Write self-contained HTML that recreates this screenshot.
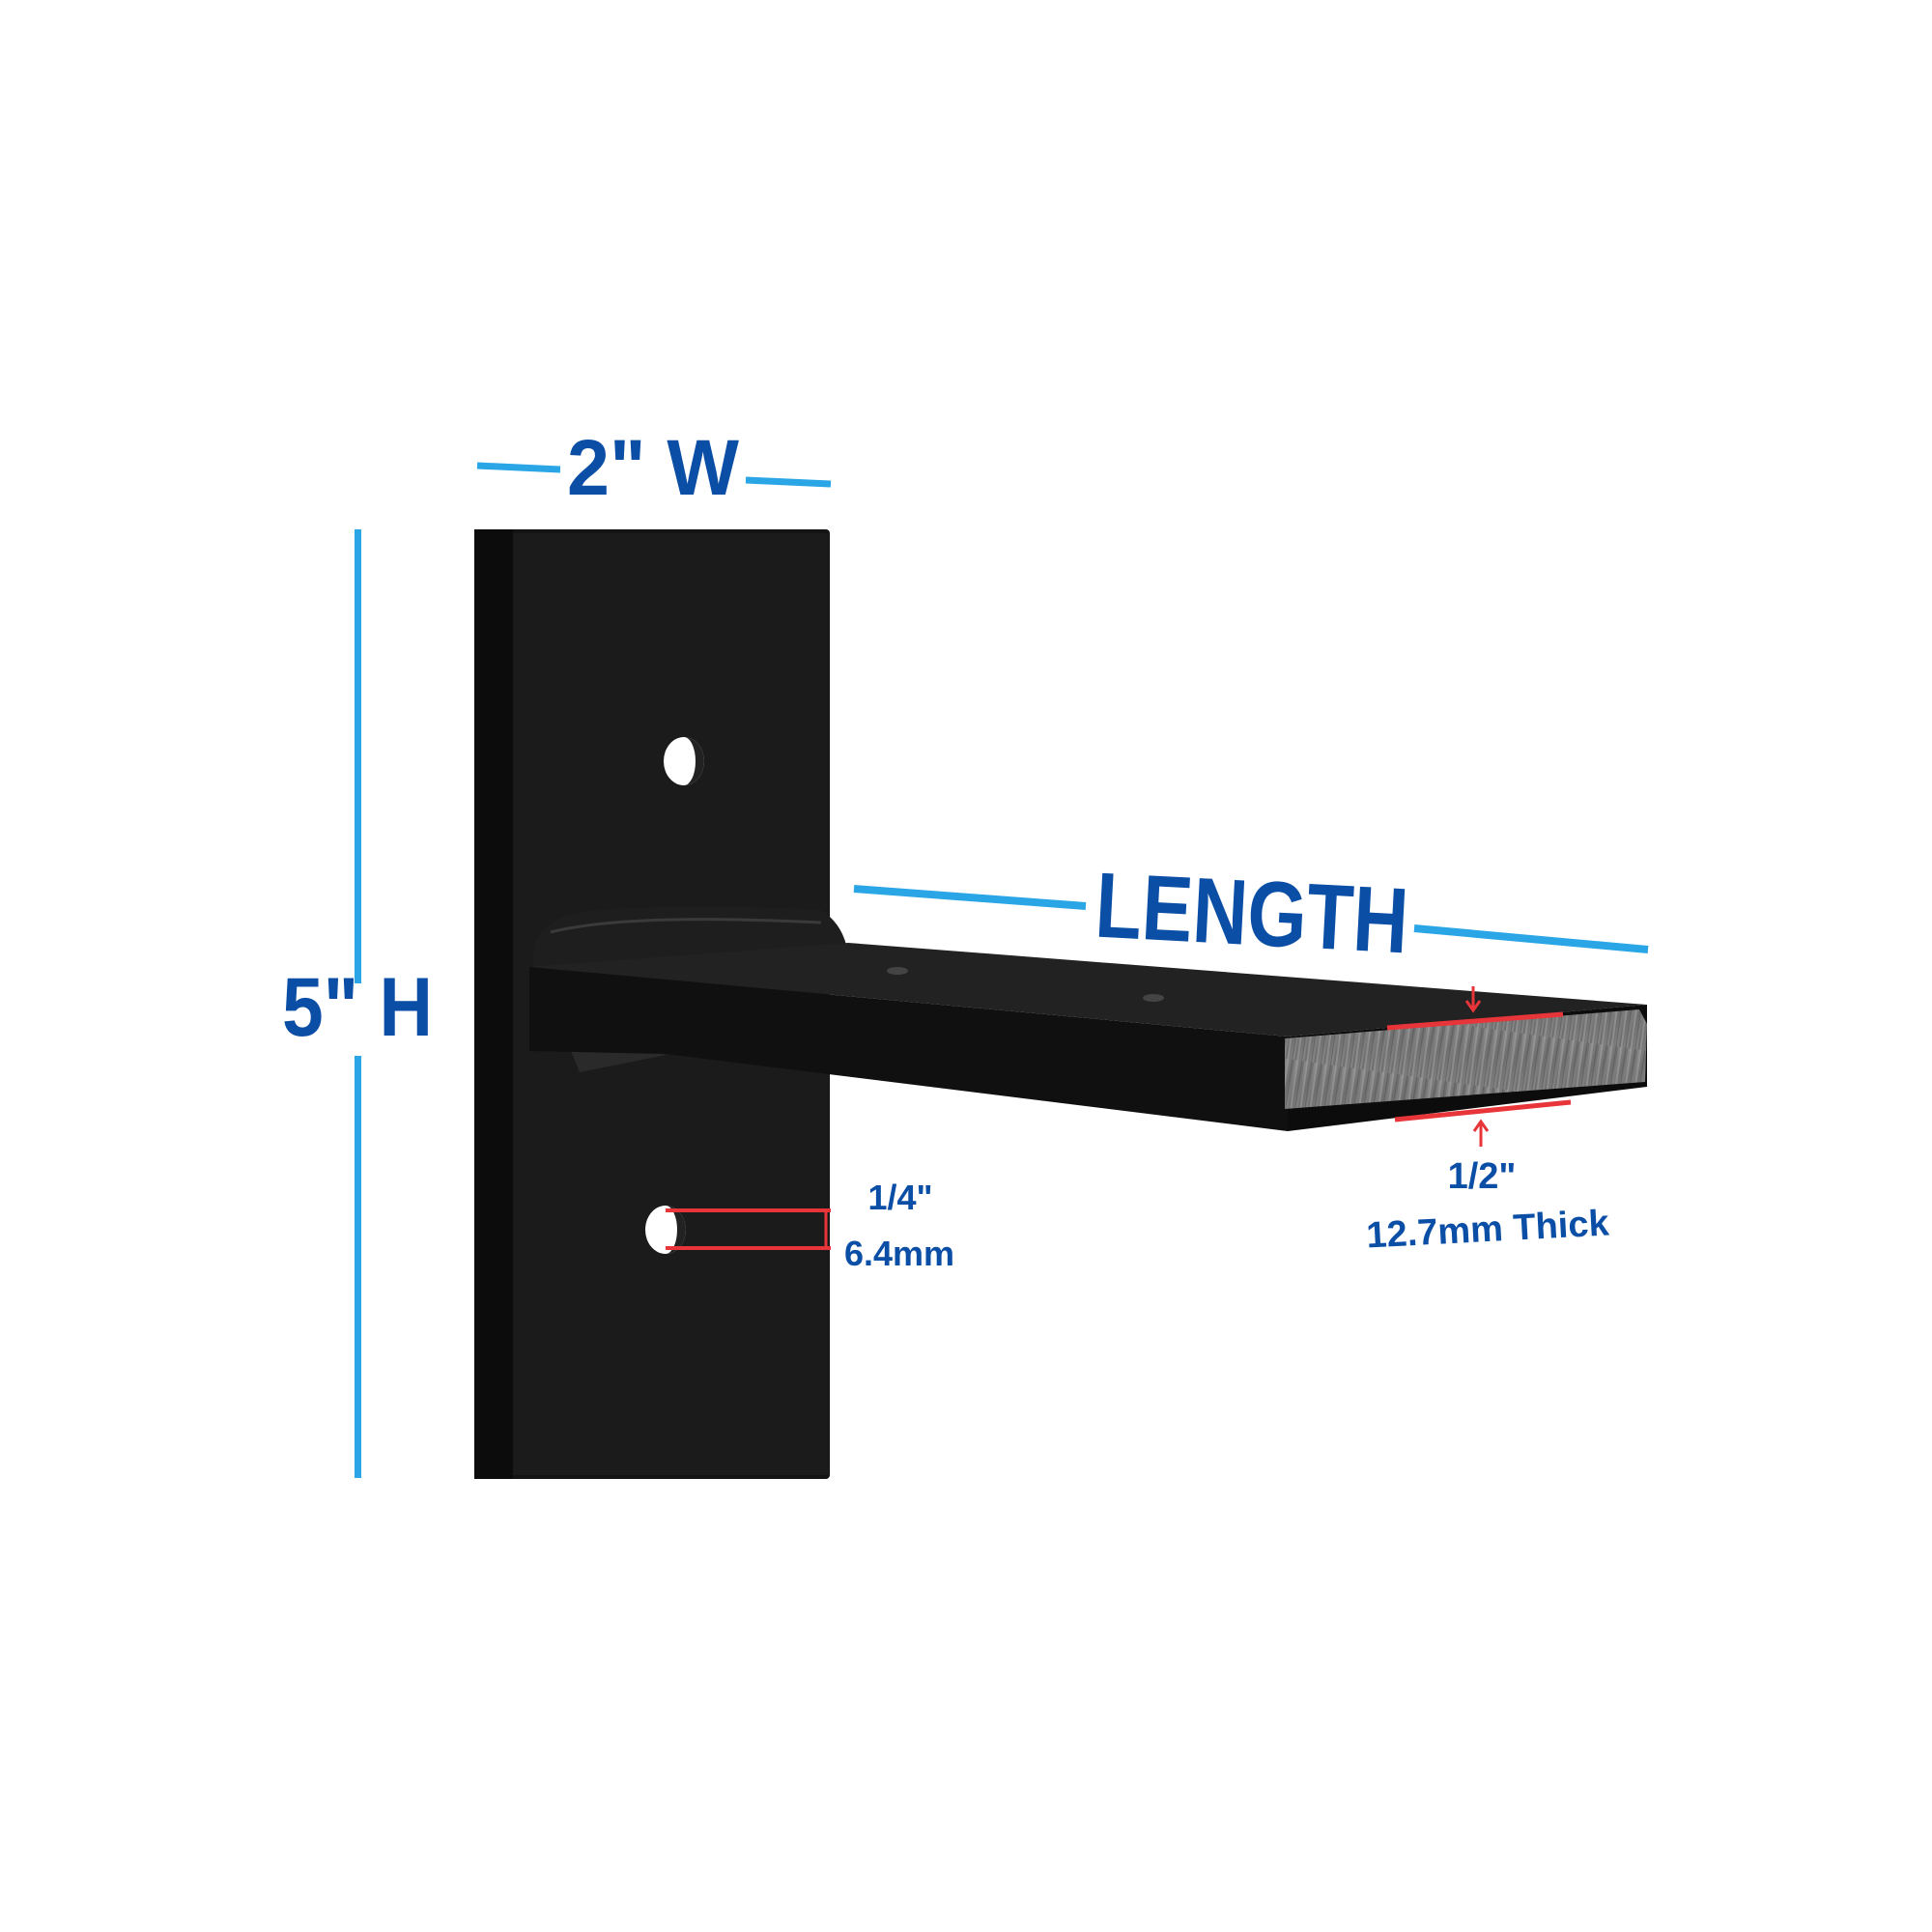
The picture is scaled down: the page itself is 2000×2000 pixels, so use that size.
<!DOCTYPE html>
<html><head><meta charset="utf-8"><style>
html,body{margin:0;padding:0;background:#fff;}
svg{display:block;}
text{font-family:"Liberation Sans",Arial,sans-serif;font-weight:bold;fill:#0b4ea6;}
</style></head><body>
<svg width="2000" height="2000" viewBox="0 0 2000 2000" xmlns="http://www.w3.org/2000/svg">
<defs>
<linearGradient id="cut" x1="0" y1="0" x2="1" y2="1">
<stop offset="0" stop-color="#8a8a8a"/><stop offset="0.5" stop-color="#6e6e6e"/><stop offset="1" stop-color="#888"/>
</linearGradient>
<pattern id="streak" width="10" height="60" patternUnits="userSpaceOnUse" patternTransform="rotate(8)">
<rect width="10" height="60" fill="url(#cut)"/>
<rect x="2" width="2" height="60" fill="#a8a8a8" opacity="0.5"/>
<rect x="7" width="1" height="60" fill="#505050" opacity="0.5"/>
</pattern>
</defs>
<rect x="367" y="548" width="7" height="470" fill="#2aa6e6"/>
<rect x="367" y="1093" width="7" height="437" fill="#2aa6e6"/>
<text x="292" y="1072" font-size="86" textLength="156" lengthAdjust="spacingAndGlyphs">5" H</text>
<line x1="494" y1="482" x2="580" y2="486" stroke="#2aa6e6" stroke-width="7"/>
<line x1="772" y1="497" x2="860" y2="501" stroke="#2aa6e6" stroke-width="7"/>
<text x="587" y="512" font-size="82" textLength="178" lengthAdjust="spacingAndGlyphs">2" W</text>
<rect x="491" y="548" width="368" height="983" rx="4" fill="#141414"/>
<rect x="530" y="552" width="328" height="975" fill="#1b1b1b"/>
<rect x="491" y="548" width="40" height="983" fill="#0c0c0c"/>
<ellipse cx="708" cy="788" rx="21" ry="25" fill="#fff"/>
<path d="M708 763 a21 25 0 0 1 0 50 a12 25 0 0 0 0 -50z" fill="#222"/>
<ellipse cx="689" cy="1273" rx="21" ry="25" fill="#fff"/>
<path d="M689 1248 a21 25 0 0 1 0 50 a12 25 0 0 0 0 -50z" fill="#222"/>
<path d="M552 985 Q560 945 620 942 Q720 935 850 942 Q870 955 876 978 L552 1002z" fill="#1e1e1e"/>
<path d="M570 965 Q650 945 850 955" stroke="#3a3a3a" stroke-width="3" fill="none"/>
<path d="M590 1085 Q640 1080 690 1092 L600 1110z" fill="#2a2a2a"/>
<polygon points="548,1001 878,976 1705,1040 1333,1073" fill="#222"/>
<polygon points="548,1001 1333,1073 1333,1171 689,1091 548,1088" fill="#101010"/>
<polygon points="1333,1073 1705,1040 1705,1125 1333,1171" fill="#0c0c0c"/>
<polygon points="1330,1075 1697,1045 1705,1060 1703,1120 1330,1148" fill="url(#streak)"/>
<ellipse cx="929" cy="1005" rx="11" ry="4" fill="#444"/>
<ellipse cx="1194" cy="1033" rx="11" ry="4" fill="#444"/>
<line x1="884" y1="920" x2="1124" y2="938" stroke="#2aa6e6" stroke-width="8"/>
<line x1="1464" y1="961" x2="1706" y2="983" stroke="#2aa6e6" stroke-width="8"/>
<text x="1134" y="978" font-size="96" textLength="324" lengthAdjust="spacingAndGlyphs" transform="rotate(3 1296 945)">LENGTH</text>
<line x1="1436" y1="1064" x2="1618" y2="1050" stroke="#e8353a" stroke-width="5"/>
<line x1="1444" y1="1159" x2="1626" y2="1141" stroke="#e8353a" stroke-width="5"/>
<line x1="1525" y1="1021" x2="1525" y2="1044" stroke="#e8353a" stroke-width="3"/>
<polyline points="1518,1036 1525,1046 1532,1036" stroke="#e8353a" stroke-width="3" fill="none"/>
<line x1="1533" y1="1163" x2="1533" y2="1187" stroke="#e8353a" stroke-width="3"/>
<polyline points="1526,1171 1533,1161 1540,1171" stroke="#e8353a" stroke-width="3" fill="none"/>
<text x="1534" y="1230" font-size="38" text-anchor="middle">1/2"</text>
<text x="1540" y="1285" font-size="38" text-anchor="middle" transform="rotate(-3 1540 1272)">12.7mm Thick</text>
<line x1="689" y1="1253" x2="860" y2="1253" stroke="#e8353a" stroke-width="4"/>
<line x1="689" y1="1292" x2="860" y2="1292" stroke="#e8353a" stroke-width="4"/>
<line x1="855" y1="1253" x2="855" y2="1292" stroke="#e8353a" stroke-width="3"/>
<text x="932" y="1252" font-size="36" text-anchor="middle">1/4"</text>
<text x="931" y="1310" font-size="36" text-anchor="middle">6.4mm</text>
</svg>
</body></html>
